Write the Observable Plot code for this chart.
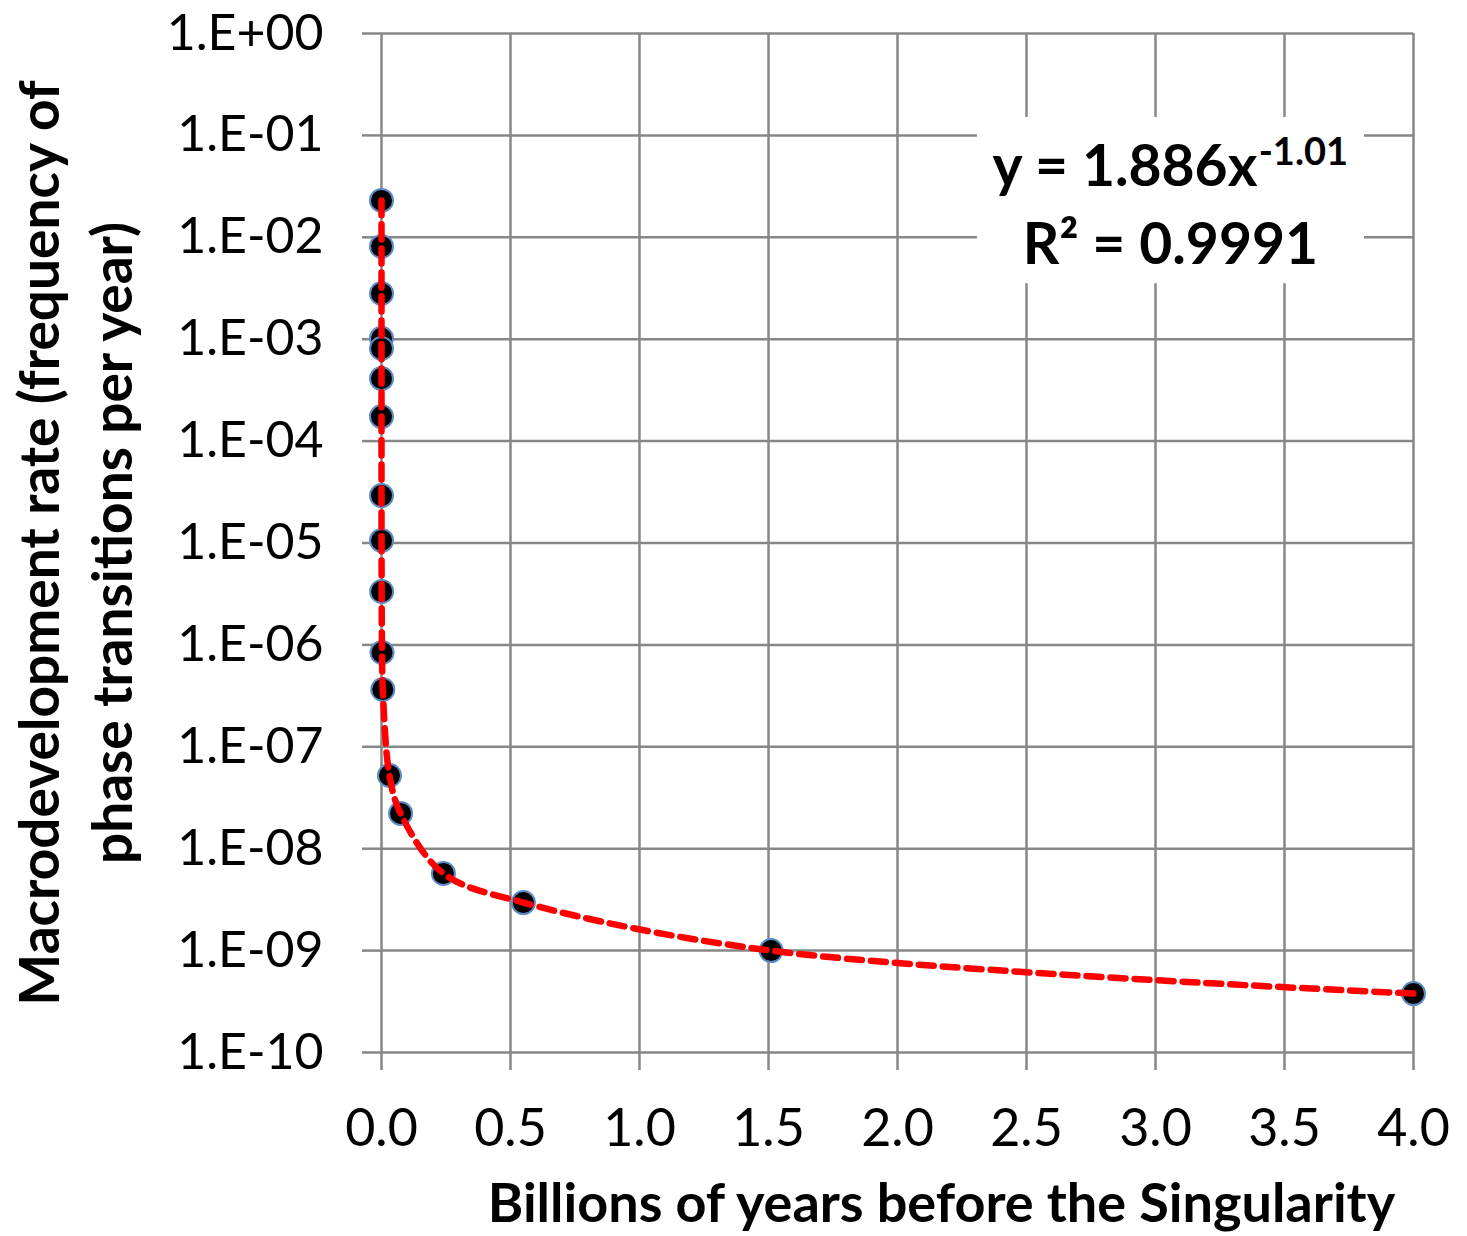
<!DOCTYPE html>
<html>
<head>
<meta charset="utf-8">
<script src="https://cdn.jsdelivr.net/npm/d3@7"></script>
<script src="https://cdn.jsdelivr.net/npm/@observablehq/plot@0.6"></script>
<style>
  html, body { margin: 0; padding: 0; background: white; }
  #chart { width: 1467px; height: 1236px; }
</style>
</head>
<body>
<div id="chart"></div>
<script>
// Billions of years before the Singularity
const years = [0.0000001, 0.0000002, 0.0000007, 0.000002, 0.0000025, 0.000005, 0.00001, 0.00006, 0.00018, 0.0006, 0.002, 0.005, 0.031, 0.074, 0.24, 0.55, 1.51, 4.0];
// Macrodevelopment rate (phase transitions per year)
const rates = [0.0230, 0.00813, 0.00281, 0.00102, 0.00081, 0.000411, 0.000174, 2.92e-5, 1.06e-5, 3.34e-6, 8.42e-7, 3.65e-7, 5.23e-8, 2.22e-8, 5.71e-9, 2.96e-9, 1.0e-9, 3.79e-10];

const xTicks = [0, 0.5, 1, 1.5, 2, 2.5, 3, 3.5, 4];
const xTickLabels = ["0.0", "0.5", "1.0", "1.5", "2.0", "2.5", "3.0", "3.5", "4.0"];
const yTicks = [1, 1e-1, 1e-2, 1e-3, 1e-4, 1e-5, 1e-6, 1e-7, 1e-8, 1e-9, 1e-10];
const yTickLabels = ["1.E+00", "1.E-01", "1.E-02", "1.E-03", "1.E-04", "1.E-05", "1.E-06", "1.E-07", "1.E-08", "1.E-09", "1.E-10"];

const xTitle = "Billions of years before the Singularity";
const yTitle = "Macrodevelopment rate (frequency of\nphase transitions per year)";

// trend-line annotation (position in data units)
const annBox = [{x1: 2.31, x2: 3.81, y1: 0.15, y2: 0.0035}];
const eqMain = [{x: 3.395, y: 0.0484, text: "y = 1.886x"}];
const eqExp = [{x: 3.40, y: 0.0679, text: "-1.01"}];
const eqR2 = [{x: 3.058, y: 0.00831, text: "R² = 0.9991"}];

const data = years.map((x, i) => ({x, y: rates[i]}));
const xLab = new Map(xTicks.map((t, i) => [t, xTickLabels[i]]));
const yLab = new Map(yTicks.map((t, i) => [t, yTickLabels[i]]));

const gridColor = "#878787";

const chart = Plot.plot({
  width: 1467,
  height: 1236,
  marginLeft: 381,
  marginRight: 54,
  marginTop: 33,
  marginBottom: 184,
  style: {fontFamily: "Lato, 'Open Sans', sans-serif", background: "white", color: "black"},
  x: {domain: [0, 4]},
  y: {type: "log", domain: [1e-10, 1]},
  marks: [
    Plot.gridX(xTicks, {stroke: gridColor, strokeOpacity: 1, strokeWidth: 2.5}),
    Plot.gridY(yTicks, {stroke: gridColor, strokeOpacity: 1, strokeWidth: 2.5}),
    Plot.axisX(xTicks, {tickSize: 18, tickPadding: 39, stroke: gridColor, strokeWidth: 2.5, fill: "black",
      tickFormat: d => xLab.get(d), fontSize: 52, label: null}),
    Plot.axisY(yTicks, {tickSize: 19, tickPadding: 39, stroke: gridColor, strokeWidth: 2.5, fill: "black",
      tickFormat: d => yLab.get(d), fontSize: 50, label: null}),
    Plot.rect(annBox, {x1: "x1", x2: "x2", y1: "y1", y2: "y2", fill: "white"}),
    Plot.dot(data, {x: "x", y: "y", r: 11.5, fill: "black", stroke: "#5b8cc8", strokeWidth: 2}),
    Plot.line(data, {x: "x", y: "y", stroke: "#ff0000", strokeWidth: 6.5, strokeDasharray: "15,9", curve: "catmull-rom"}),
    Plot.text(eqMain, {x: "x", y: "y", text: "text", textAnchor: "end", fontSize: 57, fontWeight: "bold", fill: "black"}),
    Plot.text(eqExp, {x: "x", y: "y", text: "text", textAnchor: "start", fontSize: 38, fontWeight: "bold", fill: "black"}),
    Plot.text(eqR2, {x: "x", y: "y", text: "text", textAnchor: "middle", fontSize: 57, fontWeight: "bold", fill: "black"}),
    Plot.text([xTitle], {frameAnchor: "bottom", lineAnchor: "middle", textAnchor: "middle", dy: 152, dx: 44, fontSize: 54, fontWeight: "bold", fill: "black"}),
    Plot.text([yTitle], {frameAnchor: "left", lineAnchor: "middle", textAnchor: "middle", rotate: -90, dx: -309.5, fontSize: 55, lineHeight: 1.33, fontWeight: "bold", fill: "black"})
  ]
});
document.getElementById("chart").appendChild(chart);
</script>
</body>
</html>
